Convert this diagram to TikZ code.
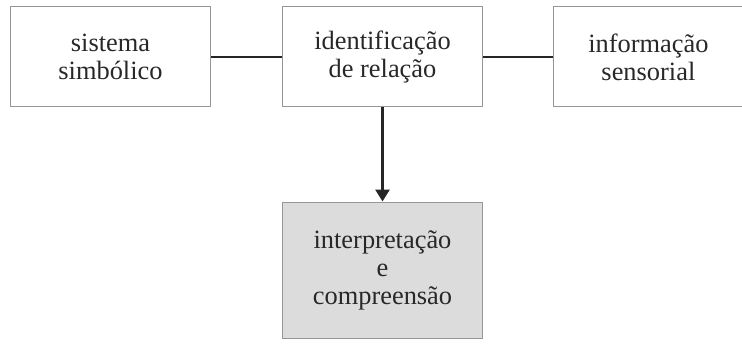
\documentclass[tikz,border=0pt]{standalone}
\usepackage{fontspec}
\setmainfont{Liberation Serif}
\usetikzlibrary{arrows.meta,positioning}

\definecolor{boxline}{RGB}{150,150,150}
\definecolor{boxfill}{RGB}{220,220,220}
\definecolor{boxtext}{RGB}{40,40,40}

\begin{document}
\begin{tikzpicture}[
		every node/.style={
			font=\fontsize{13.2}{14}\selectfont,
			text=boxtext,
			align=center,
		},
		stage/.style={
			draw=boxline,
			line width=0.5pt,
			minimum width=100pt,
			minimum height=50pt,
			inner sep=0pt,
		},
		link/.style={
			line width=1.4pt,
			black!85,
		},
	]
		\useasboundingbox (0,0) rectangle (371pt,-173.5pt);
		\node[stage] (relacao) at (191.25pt,-28.5pt) {identificação\\de relação};
		\node[stage, left=35.5pt of relacao] (simbolico) {sistema\\simbólico};
		\node[stage, right=35.2pt of relacao, minimum width=94.5pt] (sensorial) {informação\\sensorial};
		\node[stage, below=47pt of relacao, minimum height=68pt, fill=boxfill] (interpretacao)
			{interpretação\\e\\compreensão};

		\draw[link] (simbolico) -- (relacao);
		\draw[link] (relacao) -- (sensorial);
		\draw[link, -{Triangle[length=6pt,width=7pt]}] (relacao) -- (interpretacao);
	\end{tikzpicture}
\end{document}
